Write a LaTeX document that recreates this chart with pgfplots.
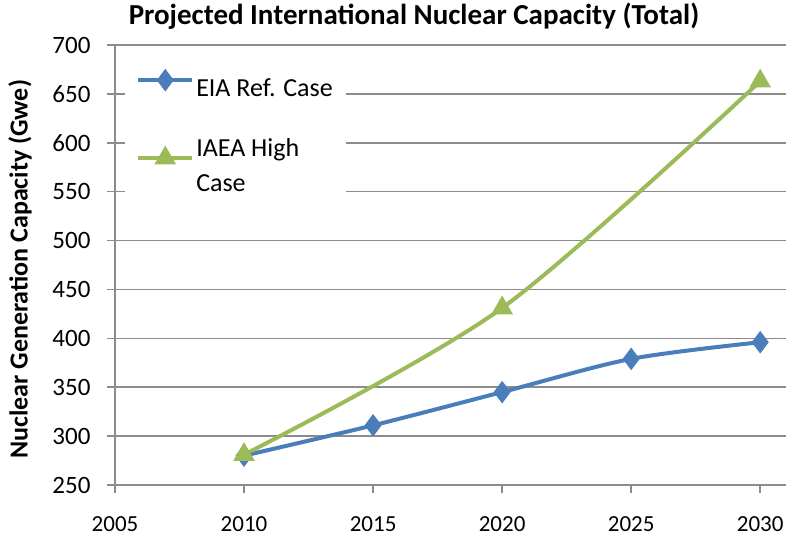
\documentclass[border=0pt]{standalone}
\usepackage{fontspec}
\setmainfont{Carlito}
\usepackage{pgfplots}
\pgfplotsset{compat=1.18}
\definecolor{eia}{HTML}{4A7EBB}
\definecolor{iaea}{HTML}{9BBB59}
\definecolor{gridc}{HTML}{8C8C8C}
\begin{document}
\begin{tikzpicture}[x=1bp,y=1bp]
\useasboundingbox (0,0) rectangle (786,540);
\begin{axis}[
  at={(115bp,55bp)}, anchor=south west,
  width=671bp, height=440bp, scale only axis,
  xmin=2005, xmax=2031, ymin=250, ymax=700,
  xtick={2005,2010,...,2030}, ytick={250,300,...,700},
  axis x line*=bottom, axis y line*=left,
  axis line style={gridc, line width=1.6bp},
  ymajorgrids, major grid style={gridc, line width=1.6bp},
  tick style={gridc, line width=1.6bp},
  tick align=outside, major tick length=8bp,
  /pgf/number format/assume math mode=true,
  /pgf/number format/1000 sep={},
  xticklabel style={font=\fontsize{23bp}{27bp}\selectfont, yshift=-20bp},
  yticklabel style={font=\fontsize{25bp}{29bp}\selectfont, xshift=-13bp},
  ylabel={\textbf{Nuclear Generation Capacity (Gwe)}},
  ylabel style={font=\fontsize{26bp}{30bp}\selectfont, at={(axis description cs:-0.1416,0.49)}, anchor=center},
  legend style={at={(0.015,0.958)}, anchor=north west, draw=none, fill=white,
    font=\fontsize{26bp}{32bp}\selectfont, cells={align=left, anchor=west},
    inner xsep=11bp, inner ysep=6bp, row sep=37bp},
  legend cell align=left,
  legend image code/.code={\draw[mark repeat=2,mark phase=2] plot coordinates {(0bp,8bp) (27bp,8bp) (54bp,8bp)};},
]
\addplot[eia, line width=4bp, smooth, mark=diamond*, mark size=10.5bp, mark options={solid, line width=1bp}]
  coordinates {(2010,280) (2015,311) (2020,345) (2025,379) (2030,396)};
\addlegendentry{EIA Ref. Case}
\addplot[iaea, line width=4bp, smooth, mark=triangle*, mark size=11.5bp, mark options={solid, line width=1bp}]
  coordinates {(2010,281) (2020,431) (2030,663)};
\addlegendentry{IAEA High\\[3bp]Case}
\end{axis}
\node[font=\fontsize{29bp}{33bp}\selectfont\bfseries, anchor=base] at (414,515) {Projected International Nuclear Capacity (Total)};
\end{tikzpicture}
\end{document}
